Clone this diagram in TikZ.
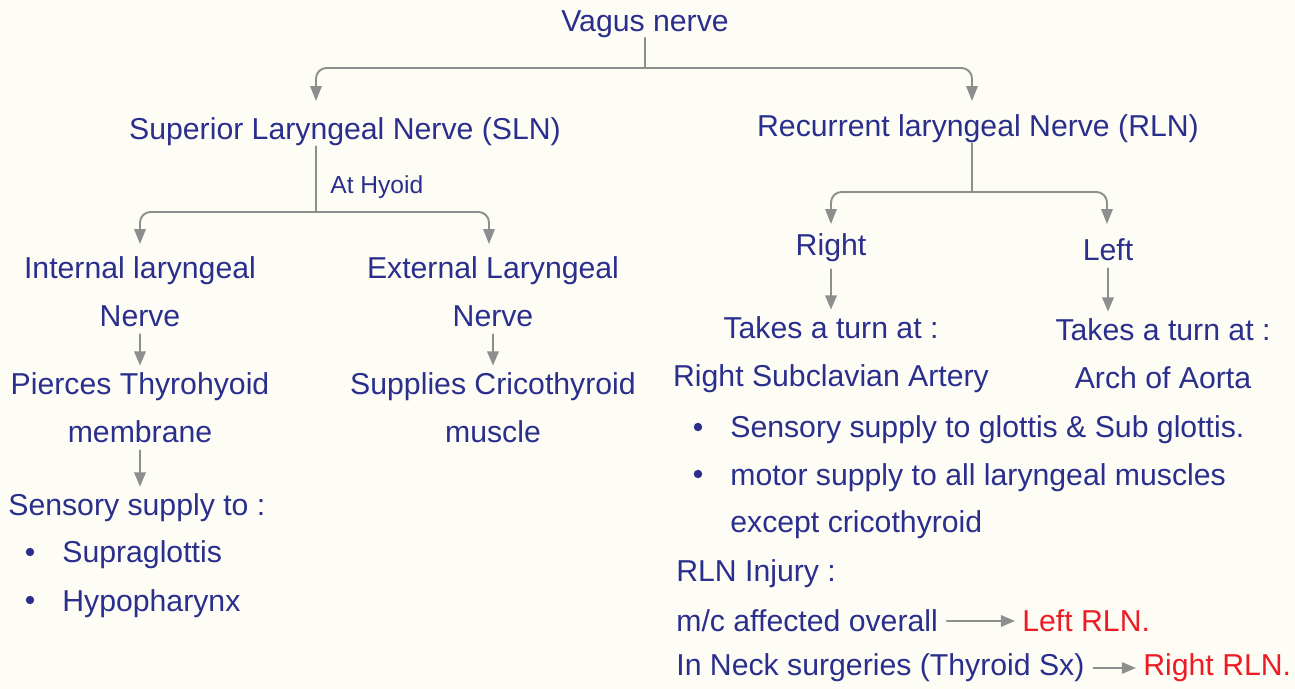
\documentclass[tikz,border=0pt]{standalone}
\usepackage{fontspec}
\setmainfont{Liberation Sans}
\usetikzlibrary{arrows.meta}

\definecolor{inkblue}{RGB}{42,46,140}
\definecolor{inkred}{RGB}{237,28,36}
\definecolor{linegray}{RGB}{142,142,142}
\definecolor{paper}{RGB}{253,253,246}

\begin{document}
\begin{tikzpicture}[
				x=0.02cm, y=-0.02cm,
				every node/.style={font=\fontsize{17.2}{27.3}\selectfont, text=inkblue, inner sep=0pt},
				txt/.style={align=center},
				small/.style={font=\fontsize{14}{16}\selectfont},
				stem/.style={draw=linegray, line width=1.1pt},
				branch/.style={stem, rounded corners=6pt, -{Triangle[length=8.5pt,width=6.5pt]}},
				downarrow/.style={stem, -{Triangle[length=8pt,width=6.5pt]}, shorten <=4pt, shorten >=4pt},
				sidearrow/.style={stem, -{Triangle[length=8pt,width=6.5pt]}, shorten <=5pt, shorten >=4pt},
				line cap=round,
				line join=round
				]
				
				% Page
				\fill[paper] (0,0) rectangle (1295,689);
				\useasboundingbox (0,0) rectangle (1295,689);
				
				% Top level
				\node (vagus) at (645,24) {Vagus nerve};
				\node (sln) at (345,132) {Superior Laryngeal Nerve (SLN)};
				\node (rln) at (978,129) {Recurrent laryngeal Nerve (RLN)};
				
				\coordinate (vsplit) at (645,68);
				\coordinate (slnin) at (316,101);
				\coordinate (rlnin) at (972,101);
				\draw[stem] (vagus) -- (vsplit);
				\draw[branch] (vsplit) -| (slnin);
				\draw[branch] (vsplit) -| (rlnin);
				
				% SLN side
				\coordinate (hsplit) at (316,212);
				\coordinate (ilnin) at (140,244);
				\coordinate (elnin) at (489,244);
				\node[small, anchor=west] (hyoid) at (330,187) {At Hyoid};
				\draw[stem] (hsplit |- sln.south) -- (hsplit);
				\draw[branch] (hsplit) -| (ilnin);
				\draw[branch] (hsplit) -| (elnin);
				
				\node[txt] (iln) at (140,292) {Internal laryngeal\\Nerve};
				\node[txt] (eln) at (493,292) {External Laryngeal\\Nerve};
				\node[txt] (pierce) at (140,408) {Pierces Thyrohyoid\\membrane};
				\node[txt] (esupp) at (493,408) {Supplies Cricothyroid\\muscle};
				\draw[downarrow] (iln) -- (pierce);
				\draw[downarrow] (eln) -- (esupp);
				
				\node[anchor=west] (sens) at (8,508) {Sensory supply to :};
				\draw[downarrow] (pierce) -- (pierce |- sens.north);
				\node[anchor=west] (supra) at (62,555) {Supraglottis};
				\node[anchor=west] (hypo) at (62,604) {Hypopharynx};
				\foreach \y in {552,600}
				{
					\fill[inkblue] (30,\y) circle (2.4pt);
				}
				
				% RLN side
				\coordinate (rsplit) at (972,192);
				\coordinate (rightin) at (831,224);
				\coordinate (leftin) at (1107,224);
				\draw[stem] (rsplit |- rln.south) -- (rsplit);
				\draw[branch] (rsplit) -| (rightin);
				\draw[branch] (rsplit) -| (leftin);
				
				\node (rightbr) at (831,248) {Right};
				\node (leftbr) at (1108,250) {Left};
				\node[txt] (rturn) at (831,355) {Takes a turn at :\\Right Subclavian Artery};
				\node[txt] (lturn) at (1163,354) {Takes a turn at :\\Arch of Aorta};
				\draw[downarrow] (rightbr) -- (rightbr |- rturn.north);
				\draw[downarrow] (leftbr) -- (leftbr |- lturn.north);
				
				\node[anchor=west] (glot) at (730,430) {Sensory supply to glottis \& Sub glottis.};
				\node[anchor=west] (motor) at (730,478) {motor supply to all laryngeal muscles};
				\node[anchor=west] (except) at (730,525) {except cricothyroid};
				\foreach \y in {427,474}
				{
					\fill[inkblue] (698,\y) circle (2.4pt);
				}
				
				% Injury notes
				\node[anchor=west] (inj) at (676,574) {RLN Injury :};
				\node[anchor=west] (mc) at (676,621) {m/c affected overall};
				\node[anchor=west, text=inkred] (lrln) at (1022,621) {Left RLN.};
				\node[anchor=west] (neck) at (676,668) {In Neck surgeries (Thyroid Sx)};
				\node[anchor=west, text=inkred] (rrln) at (1143,668) {Right RLN.};
				\draw[sidearrow] (mc) -- (lrln);
				\draw[sidearrow] (neck) -- (rrln);
				
			\end{tikzpicture}
\end{document}
